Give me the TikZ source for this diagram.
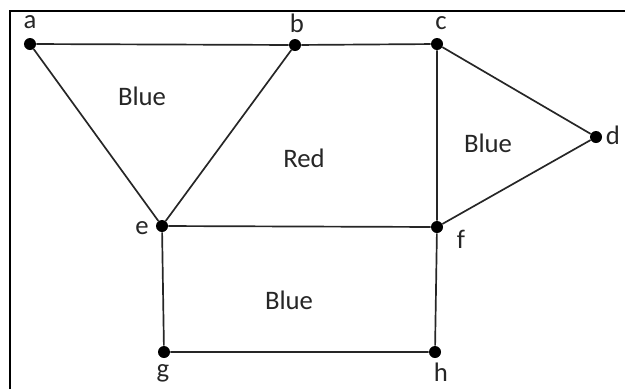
\documentclass[tikz,border=0pt]{standalone}
\usepackage{fontspec}
\setmainfont{Carlito}
\tikzset{
  vtx/.style={circle,fill=black,inner sep=0pt,minimum size=0.3cm},
  lbl/.style={inner sep=0pt,text=black!85,font=\fontsize{19}{22}\selectfont},
  edge/.style={line width=1.2pt,black!85}
}
\begin{document}
\begin{tikzpicture}[x=0.025cm,y=-0.025cm]
\useasboundingbox (0,0) rectangle (625,389);
% frame
\coordinate (fl) at (10,389);
\coordinate (ft) at (10,11);
\coordinate (fr) at (625,11);
\draw[line width=2pt] (fl) -- (ft) -- (fr);

% vertices
\node[vtx] (a) at (30,44) {};
\node[vtx] (b) at (295,45) {};
\node[vtx] (c) at (437,44) {};
\node[vtx] (d) at (596,137) {};
\node[vtx] (e) at (162,226) {};
\node[vtx] (f) at (437,227) {};
\node[vtx] (g) at (164,352) {};
\node[vtx] (h) at (435,352) {};

\node[lbl] (la) at (30,22) {a};
\node[lbl] (lb) at (297,23) {b};
\node[lbl] (lc) at (441,23) {c};
\node[lbl] (ld) at (613,135) {d};
\node[lbl] (le) at (142,228) {e};
\node[lbl] (lf) at (461,239) {f};
\node[lbl] (lg) at (163,373) {g};
\node[lbl] (lh) at (441,372) {h};

% regions
\node[lbl] (r1) at (142,96) {Blue};
\node[lbl] (r2) at (304,158) {Red};
\node[lbl] (r3) at (488,143) {Blue};
\node[lbl] (r4) at (289,300) {Blue};

\draw[edge] (a) -- (b) -- (c) -- (d) -- (f) -- (e) -- (a);
\draw[edge] (b) -- (e) -- (g) -- (h) -- (f) -- (c);
\end{tikzpicture}
\end{document}
